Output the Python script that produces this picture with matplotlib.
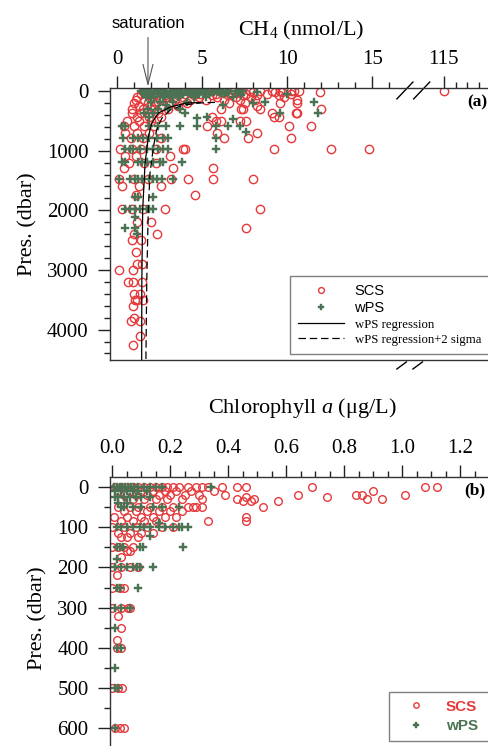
import numpy as np
import matplotlib
matplotlib.use('Agg')
import matplotlib.pyplot as plt
from matplotlib.ticker import MultipleLocator, FormatStrFormatter

plt.rcParams['font.family'] = 'Liberation Serif'
plt.rcParams['mathtext.fontset'] = 'custom'
plt.rcParams['mathtext.rm'] = 'Liberation Serif'
plt.rcParams['mathtext.it'] = 'Liberation Serif:italic'

# ---- panel (a): CH4 (nmol/L) by pressure level (dbar)
scs_ch4_levels = [0, 20, 50, 75, 100, 150, 200, 250, 300, 370, 440, 500, 590, 700, 780, 970,
                  1090, 1200, 1290, 1480, 1590, 1740, 1980, 2200, 2300, 2400, 2500, 2700, 2900,
                  3000, 3200, 3400, 3510, 3610, 3810, 3860, 4110, 4260]
scs_ch4_values = [
    [1.5, 2.0, 2.4, 2.9, 3.3, 3.8, 4.2, 4.6, 5.1, 5.5, 6.0, 6.4, 6.9, 7.3, 7.8, 8.4, 9.1, 9.6, 10.2, 10.4, 10.7, 115.0],
    [1.7, 2.6, 3.5, 4.4, 5.3, 6.2, 7.1, 8.0, 9.3, 9.7, 11.9],
    [1.4, 2.2, 3.1, 4.0, 4.9, 5.8, 6.7, 7.6, 8.8, 10.2],
    [1.9, 2.8, 3.6, 4.5, 5.6, 6.5, 7.4, 8.2, 9.5],
    [1.2, 2.1, 3.0, 3.9, 4.8, 5.9, 7.0, 7.9, 9.8],
    [1.1, 1.6, 2.5, 3.4, 4.3, 5.2, 6.3, 7.2, 8.1, 10.6],
    [1.0, 1.8, 2.3, 3.2, 4.1, 6.6, 7.5, 9.6, 10.6],
    [1.3, 2.0, 2.7, 3.6, 8.2],
    [0.9, 1.5, 2.2, 3.0, 6.1, 7.3, 7.4, 8.4, 12.0],
    [0.9, 1.4, 2.4, 9.1, 10.6, 10.5],
    [1.2, 1.9, 2.6, 5.6, 9.2, 9.5],
    [0.6, 1.3, 2.0, 5.8, 6.1, 7.2, 7.6],
    [0.4, 1.0, 1.6, 2.2, 5.3, 10.1, 11.4],
    [0.5, 1.2, 1.9, 5.9, 8.2],
    [0.8, 1.5, 2.6, 6.3, 7.7, 10.2],
    [0.2, 0.9, 1.4, 2.3, 3.9, 4.0, 9.2, 12.6, 14.8],
    [0.5, 1.1, 3.1],
    [0.7, 1.6, 2.3],
    [0.4, 3.3, 5.65],
    [0.1, 1.0, 1.8, 3.2, 4.2, 5.65, 8.0],
    [0.3, 1.3, 2.6],
    [1.1, 4.6],
    [0.3, 0.9, 1.5, 2.8, 8.4],
    [1.2, 2.0],
    [7.6],
    [1.0, 2.35],
    [0.9, 1.4],
    [1.1],
    [1.2, 1.45],
    [0.1, 0.95],
    [0.65, 0.95, 1.47],
    [1.0, 1.35],
    [1.06, 1.2, 1.5],
    [0.95],
    [1.0],
    [0.8, 1.35],
    [1.35],
    [0.95],
]
wps_ch4_levels = [0, 10, 20, 35, 50, 75, 100, 180, 200, 235, 300, 370, 430, 455, 470, 590, 690,
                  780, 975, 1190, 1480, 1780, 1980, 2120, 2300, 2390]
wps_ch4_values = [
    [1.4, 1.7, 2.0, 2.3, 2.6, 2.9, 3.2, 3.5, 3.8, 4.1, 4.4, 4.7, 5.0, 5.3, 5.6, 5.9, 6.2, 6.6, 7.0, 7.4],
    [1.6, 2.2, 2.7, 3.4, 4.0, 4.9, 5.7, 6.4, 7.2],
    [1.5, 1.9, 2.4, 2.8, 3.3, 3.7, 4.2, 4.6, 5.1, 5.5, 6.0, 6.5, 7.1, 8.2],
    [1.8, 2.6, 3.5, 4.4, 5.2, 6.1],
    [1.6, 2.1, 2.5, 3.0, 3.4, 3.9, 4.3, 4.8, 5.4, 6.3, 10.0],
    [1.9, 2.8, 3.7, 4.6, 7.3],
    [1.7, 2.2, 2.7, 3.1, 3.6, 4.5, 5.2, 6.8],
    [2.0, 2.5, 3.3, 4.1, 8.7, 11.6],
    [8.0],
    [2.9, 6.2],
    [1.8, 2.4, 3.0, 3.7],
    [1.6, 2.1, 4.0, 9.6, 11.8],
    [1.9, 5.3],
    [4.7],
    [6.8],
    [0.3, 0.5, 1.9, 2.4, 2.9, 3.7, 4.7, 5.8, 6.5, 7.2],
    [7.6],
    [0.35, 0.95, 1.25, 1.5, 1.9, 2.35, 2.7, 3.0, 5.8],
    [0.5, 0.75, 0.95, 1.35, 1.75, 2.1, 2.4, 2.7, 3.0, 5.8],
    [0.3, 0.5, 1.25, 1.45, 1.75, 2.1, 2.5, 2.7, 3.8],
    [0.1, 0.75, 1.05, 1.25, 1.45, 1.9, 2.1, 2.35, 2.65, 3.3],
    [1.05, 1.25, 2.1],
    [0.5, 0.75, 1.05, 1.35, 1.75, 1.9, 2.1],
    [1.05],
    [0.5, 1.05],
    [1.2],
]
# regression curves
reg_depth = [195, 200, 270, 370, 540, 770, 1210, 1990, 3170, 4500]
reg_ch4 = [4.9, 4.1, 3.12, 2.43, 2.04, 1.84, 1.65, 1.51, 1.46, 1.45]
reg2_depth = [190, 200, 235, 320, 460, 650, 940, 1380, 1990, 3170, 4500]
reg2_ch4 = [5.76, 4.9, 3.9, 3.12, 2.63, 2.33, 2.14, 1.94, 1.84, 1.75, 1.7]
ch4_major = [0, 5, 10, 15, 115]
ch4_labels = ['0', '5', '10', '15', '115']
ch4_minor = [1, 2, 3, 4, 6, 7, 8, 9, 11, 12, 13, 14, 16, 116, 117, 118, 119]

# ---- panel (b): chlorophyll a (ug/L) by pressure level (dbar)
scs_chl_levels = [0, 10, 20, 25, 30, 35, 50, 60, 75, 85, 100, 115, 125, 150, 160, 175, 200,
                  220, 250, 300, 320, 350, 380, 400, 500, 600]
scs_chl_values = [
    [0.01, 0.03, 0.05, 0.07, 0.09, 0.11, 0.13, 0.15, 0.17, 0.19, 0.21, 0.23, 0.26, 0.29, 0.31, 0.33, 0.38, 0.43, 0.46, 0.69, 1.08, 1.12],
    [0.02, 0.06, 0.10, 0.14, 0.18, 0.22, 0.27, 0.35, 0.90],
    [0.04, 0.08, 0.12, 0.16, 0.20, 0.25, 0.30, 0.39, 0.64, 0.84, 0.86, 1.01],
    [0.46, 0.74],
    [0.03, 0.07, 0.11, 0.15, 0.19, 0.24, 0.31, 0.43, 0.49, 0.88, 0.93],
    [0.45, 0.48, 0.57],
    [0.02, 0.06, 0.09, 0.13, 0.17, 0.21, 0.26, 0.28, 0.29, 0.31, 0.52],
    [0.04, 0.08, 0.12, 0.16, 0.20, 0.24],
    [0.005, 0.05, 0.10, 0.14, 0.18, 0.22, 0.46],
    [0.03, 0.07, 0.11, 0.15, 0.33, 0.46],
    [0.0, 0.04, 0.08, 0.12, 0.17, 0.21],
    [0.02, 0.06, 0.10, 0.14],
    [0.03, 0.05, 0.09],
    [0.0, 0.02, 0.04, 0.07],
    [0.05, 0.06],
    [0.03],
    [0.0, 0.03, 0.06, 0.09],
    [0.015],
    [0.0, 0.025, 0.04],
    [0.0, 0.03, 0.055, 0.06],
    [0.02],
    [0.03],
    [0.015],
    [0.015, 0.03],
    [0.0, 0.02, 0.035],
    [0.01, 0.025, 0.04],
]
wps_chl_levels = [0, 10, 25, 40, 50, 90, 100, 122, 150, 178, 200, 250, 300, 350, 400, 450, 500, 600]
wps_chl_values = [
    [0.005, 0.015, 0.025, 0.035, 0.045, 0.055, 0.065, 0.075, 0.09, 0.11, 0.13, 0.15, 0.17, 0.34],
    [0.01, 0.03, 0.05, 0.07, 0.09, 0.12],
    [0.01, 0.02, 0.04, 0.06, 0.08, 0.10, 0.13],
    [0.02, 0.05],
    [0.03, 0.04, 0.07, 0.10, 0.14, 0.17, 0.23],
    [0.16],
    [0.015, 0.03, 0.05, 0.07, 0.095, 0.11, 0.13, 0.16, 0.18, 0.21, 0.23, 0.24, 0.26],
    [0.13],
    [0.015, 0.025, 0.036, 0.095, 0.105, 0.245],
    [0.015],
    [0.01, 0.03, 0.05, 0.07, 0.085, 0.095, 0.14],
    [0.015, 0.025, 0.09],
    [0.01, 0.03, 0.06],
    [0.01],
    [0.015, 0.03],
    [0.01],
    [0.01, 0.02],
    [0.01],
]

red = '#e5393b'
green = '#4b7353'


def expand(levels, values):
    x, y = [], []
    for lev, vals in zip(levels, values):
        x += vals
        y += [lev] * len(vals)
    return np.array(x, float), np.array(y, float)


# broken CH4 axis: 0-17 linear, 17-113 squeezed, >113 compressed
def fwd(x):
    x = np.asarray(x, float)
    return np.where(x <= 17, x, np.where(x >= 113, 19.2 + (x - 115) * 0.69,
                                         17 + (x - 17) * 0.82 / 96))


def inv(u):
    u = np.asarray(u, float)
    return np.where(u <= 17, u, np.where(u >= 17.82, 115 + (u - 19.2) / 0.69,
                                         17 + (u - 17) * 96 / 0.82))


def style_axes(ax):
    ax.xaxis.tick_top()
    ax.xaxis.set_label_position('top')
    ax.tick_params(axis='x', which='both', top=True, bottom=False, direction='out',
                   labelsize=15, pad=5)
    ax.tick_params(axis='y', which='both', left=True, right=False, direction='out',
                   labelsize=15, pad=7)
    ax.tick_params(which='major', length=8.5, width=1.0, color='#222222')
    ax.tick_params(which='minor', length=4.3, width=1.0, color='#222222')
    for s in ax.spines.values():
        s.set_linewidth(1.0)
        s.set_color('#333333')


fig = plt.figure(figsize=(4.88, 7.46), dpi=100)

# ------------- (a)
ax1 = fig.add_axes([0.2254, 0.5174, 0.7828, 0.3646])
ax1.set_xscale('function', functions=(fwd, inv))
sx, sy = expand(scs_ch4_levels, scs_ch4_values)
wx, wy = expand(wps_ch4_levels, wps_ch4_values)
ax1.plot(sx, sy, 'o', ls='none', mfc='none', mec=red, mew=1.0, ms=6, label='SCS')
ax1.plot(wx, wy, 'P', ls='none', color=green, mec=green, mew=0.3, ms=5.5, label='wPS')
ax1.plot(reg_ch4, reg_depth, '-', color='k', lw=0.9, label='wPS regression')
ax1.plot(reg2_ch4, reg2_depth, '--', dashes=(6, 3), color='k', lw=0.9,
         label='wPS regression+2 sigma')
ax1.set_xlim(-0.41, 119.1)
ax1.set_ylim(4510, -50)
style_axes(ax1)
ax1.set_xticks(ch4_major)
ax1.set_xticklabels(ch4_labels)
ax1.set_xticks(ch4_minor, minor=True)
ax1.yaxis.set_major_locator(MultipleLocator(1000))
ax1.yaxis.set_minor_locator(MultipleLocator(200))
ax1.set_xlabel('CH$_4$ (nmol/L)', fontsize=16, labelpad=11)
ax1.set_ylabel('Pres. (dbar)', fontsize=16, labelpad=7)
ax1.text(0.987, 0.949, '(a)', transform=ax1.transAxes, ha='right', va='center',
         fontsize=12.5, fontweight='bold')

# break marks
for x0 in (0.751, 0.795):
    ax1.plot([x0, x0 + 0.042], [0.96, 1.022], transform=ax1.transAxes, color='k',
             lw=1.0, clip_on=False)
for x0 in (0.751, 0.793):
    ax1.plot([x0, x0 + 0.025], [-0.033, -0.007], transform=ax1.transAxes, color='k',
             lw=1.0, clip_on=False)

ax1.annotate('saturation', xy=(1.82, 1.0), xycoords=('data', 'axes fraction'),
             xytext=(148 / 488, 1 - 23 / 746), textcoords='figure fraction',
             ha='center', va='center', fontsize=12, family='Liberation Sans',
             arrowprops=dict(arrowstyle='->,head_length=1.2,head_width=0.3',
                             color='#555555', lw=0.8, shrinkA=3, shrinkB=1))

leg1 = ax1.legend(loc='upper left', bbox_to_anchor=(0.471, 0.0, 0.75, 0.309), mode='expand',
                  borderaxespad=0, fontsize=10, handlelength=3.3, handletextpad=0.75,
                  borderpad=0.6, labelspacing=0.2, markerscale=0.7, fancybox=False,
                  edgecolor='#808080', framealpha=1)
leg1.get_frame().set_linewidth(1.0)
for t, fam, fs in zip(leg1.get_texts(), ['Liberation Sans', 'Liberation Sans',
                                          'Liberation Serif', 'Liberation Serif'],
                      [10.5, 10.5, 9.2, 9.2]):
    t.set_family(fam)
    t.set_fontsize(fs)

# ------------- (b)
ax2 = fig.add_axes([0.2254, -0.0188, 0.789, 0.3794])
cx, cy = expand(scs_chl_levels, scs_chl_values)
gx, gy = expand(wps_chl_levels, wps_chl_values)
ax2.plot(cx, cy, 'o', ls='none', mfc='none', mec=red, mew=1.0, ms=5.5, label='SCS')
ax2.plot(gx, gy, 'P', ls='none', color=green, mec=green, mew=0.3, ms=5.5, label='wPS')
ax2.set_xlim(-0.008, 1.32)
ax2.set_ylim(679, -25)
style_axes(ax2)
ax2.xaxis.set_major_locator(MultipleLocator(0.2))
ax2.xaxis.set_minor_locator(MultipleLocator(0.05))
ax2.xaxis.set_major_formatter(FormatStrFormatter('%.1f'))
ax2.yaxis.set_major_locator(MultipleLocator(100))
ax2.yaxis.set_minor_locator(MultipleLocator(50))
ax2.set_xlabel('Chlorophyll $a$ (\u03bcg/L)', fontsize=16, labelpad=19)
ax2.set_ylabel('Pres. (dbar)', fontsize=16, labelpad=7)
ax2.text(0.974, 0.954, '(b)', transform=ax2.transAxes, ha='right', va='center',
         fontsize=12.5, fontweight='bold')

leg2 = ax2.legend(loc='upper left', bbox_to_anchor=(0.725, 0.0, 0.6, 0.240), mode='expand',
                  borderaxespad=0, fontsize=11, handlelength=2.5, handletextpad=0.7,
                  borderpad=0.5, labelspacing=0.35, markerscale=0.7, fancybox=False,
                  edgecolor='#808080', framealpha=1)
leg2.get_frame().set_linewidth(1.0)
for t, c in zip(leg2.get_texts(), [red, green]):
    t.set_family('Liberation Sans')
    t.set_fontweight('bold')
    t.set_color(c)

fig.savefig('out.png', dpi=100)
